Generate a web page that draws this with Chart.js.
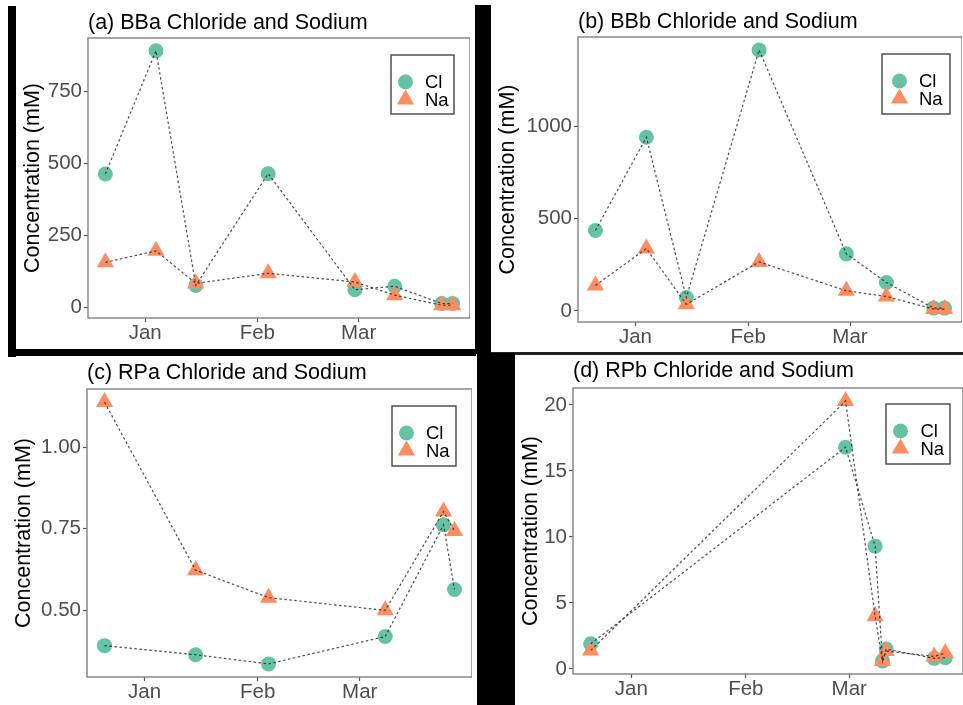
<!DOCTYPE html>
<html>
<head>
<meta charset="utf-8">
<script src="https://cdn.jsdelivr.net/npm/chart.js"></script>
<style>
  html, body { margin: 0; padding: 0; background: #fff; }
  body { position: relative; width: 963px; height: 705px; overflow: hidden; }
  .bar { position: absolute; background: #000; }
  .panel { position: absolute; }
</style>
</head>
<body>
<!-- black framing between the four panels -->
<div class="bar" style="left:8px;top:6px;width:8px;height:351px"></div>
<div class="bar" style="left:8px;top:349px;width:468px;height:7px"></div>
<div class="bar" style="left:475px;top:5px;width:16px;height:349px"></div>
<div class="bar" style="left:491px;top:352px;width:472px;height:3px;background:#222"></div>
<div class="bar" style="left:477px;top:353px;width:38px;height:352px"></div>

<div class="panel" id="pa"><canvas></canvas></div>
<div class="panel" id="pb"><canvas></canvas></div>
<div class="panel" id="pc"><canvas></canvas></div>
<div class="panel" id="pd"><canvas></canvas></div>

<script>
// sampling dates
const bbDates = ['2018-12-21', '2019-01-04', '2019-01-15', '2019-02-04', '2019-02-28', '2019-03-11', '2019-03-24', '2019-03-27'];
const rpaDates = ['2018-12-21', '2019-01-15', '2019-02-04', '2019-03-08', '2019-03-24', '2019-03-27'];
const rpbDates = ['2018-12-21', '2019-02-28', '2019-03-08', '2019-03-10', '2019-03-11', '2019-03-24', '2019-03-27'];

// concentrations (mM)
const bbaCl = [462, 890, 75, 463, 60, 72, 12, 12];
const bbaNa = [155, 195, 82, 117, 87, 41, 6, 6];
const bbbCl = [436, 941, 72, 1414, 309, 154, 15, 15];
const bbbNa = [138, 338, 36, 265, 109, 78, 10, 10];
const rpaCl = [0.392, 0.364, 0.336, 0.420, 0.762, 0.564];
const rpaNa = [1.138, 0.623, 0.539, 0.500, 0.803, 0.743];
const rpbCl = [1.9, 16.8, 9.3, 0.6, 1.5, 0.8, 0.85];
const rpbNa = [1.4, 20.3, 4.0, 0.6, 1.35, 0.95, 1.2];

// axis ticks
const monthTicks = ['2019-01-01', '2019-02-01', '2019-03-01'];
const monthLabels = ['Jan', 'Feb', 'Mar'];
const yTicksBBa = [0, 250, 500, 750];
const yTicksBBb = [0, 500, 1000];
const yTicksRPa = [0.50, 0.75, 1.00];
const yTicksRPb = [0, 5, 10, 15, 20];

const CL_COLOR = '#66C2A5';
const NA_COLOR = '#FC8D62';
const FONT = '"Liberation Sans", Arial, sans-serif';
const TITLE_SIZE = 21.5;
const TICK_SIZE = 20.5;
const LEGEND_SIZE = 18.5;
const Y_AXIS_W = 90;
const TITLE_H = 40;
const X_AXIS_H = 40;

function dayNum(s) {
  const [y, m, d] = s.split('-').map(Number);
  return (Date.UTC(y, m - 1, d) - Date.UTC(2019, 0, 1)) / 86400000;
}

// ggplot style 5% expansion of the data range
function expand(values) {
  const lo = Math.min(...values), hi = Math.max(...values);
  const pad = (hi - lo) * 0.05;
  return [lo - pad, hi + pad];
}

const framePlugin = {
  id: 'panelFrame',
  afterDatasetsDraw(chart) {
    const { ctx, chartArea: a } = chart;
    ctx.save();
    ctx.strokeStyle = '#808080';
    ctx.lineWidth = 1.4;
    ctx.strokeRect(a.left, a.top, a.right - a.left, a.bottom - a.top);
    ctx.restore();
  }
};

function legendPlugin(pos) {
  return {
    id: 'panelLegend',
    afterDraw(chart) {
      const { ctx, chartArea: a } = chart;
      const x = a.right - pos.right - pos.w;
      const y = a.top + pos.top;
      ctx.save();
      ctx.fillStyle = '#fff';
      ctx.fillRect(x, y, pos.w, pos.h);
      ctx.strokeStyle = '#444';
      ctx.lineWidth = 1.4;
      ctx.strokeRect(x, y, pos.w, pos.h);
      const entries = ['Cl', 'Na'].map(l => chart.data.datasets.find(d => d.label === l));
      entries.forEach((ds, i) => {
        const cy = y + 27 + i * 17.5;
        ctx.fillStyle = ds.backgroundColor;
        Chart.helpers.drawPoint(ctx, { pointStyle: ds.pointStyle, radius: ds.pointRadius, borderWidth: 0, rotation: 0 }, x + pos.sym, cy);
        ctx.fillStyle = '#000';
        ctx.font = LEGEND_SIZE + 'px ' + FONT;
        ctx.textBaseline = 'middle';
        ctx.textAlign = 'left';
        ctx.fillText(ds.label, x + pos.text, cy + 1);
      });
      ctx.restore();
    }
  };
}

function makePanel(id, cfg) {
  const box = document.getElementById(id);
  const a = cfg.area;
  const left = a.l - Y_AXIS_W;
  const top = a.t - TITLE_H;
  box.style.left = left + 'px';
  box.style.top = top + 'px';
  box.style.width = (a.r - left) + 'px';
  box.style.height = (a.b - top + X_AXIS_H) + 'px';

  const xs = cfg.dates.map(dayNum);
  const [xmin, xmax] = expand(xs);
  const [ymin, ymax] = expand(cfg.cl.concat(cfg.na));
  const pts = ys => xs.map((x, i) => ({ x: x, y: ys[i] }));
  const half = TITLE_SIZE * 1.2 / 2;
  const line = { showLine: true, pointRadius: 0, borderColor: 'rgba(45,45,45,0.85)', borderWidth: 1.2, borderDash: [2.5, 2.5], order: 0 };

  new Chart(box.querySelector('canvas'), {
    type: 'scatter',
    data: {
      datasets: [
        Object.assign({ label: 'Cl line', data: pts(cfg.cl) }, line),
        Object.assign({ label: 'Na line', data: pts(cfg.na) }, line),
        { label: 'Na', data: pts(cfg.na), pointStyle: 'triangle', pointRadius: 10, backgroundColor: NA_COLOR, borderWidth: 0, order: 1 },
        { label: 'Cl', data: pts(cfg.cl), pointStyle: 'circle', pointRadius: 7.5, backgroundColor: CL_COLOR, borderWidth: 0, order: 1 }
      ]
    },
    options: {
      animation: false,
      responsive: true,
      maintainAspectRatio: false,
      layout: { padding: 0, autoPadding: false },
      plugins: {
        legend: { display: false },
        tooltip: { enabled: false },
        title: {
          display: true,
          text: cfg.title,
          align: 'start',
          fullSize: false,
          color: '#000',
          font: { family: FONT, size: TITLE_SIZE, weight: 'normal' },
          padding: { top: cfg.titleY - half - top, bottom: a.t - cfg.titleY - half }
        }
      },
      scales: {
        x: {
          type: 'linear',
          min: xmin,
          max: xmax,
          afterFit: s => { s.height = X_AXIS_H; },
          afterBuildTicks: s => { s.ticks = monthTicks.map(d => ({ value: dayNum(d) })); },
          ticks: {
            autoSkip: false,
            maxRotation: 0,
            padding: -1,
            color: '#4D4D4D',
            font: { family: FONT, size: TICK_SIZE },
            callback: (v, i) => monthLabels[i]
          },
          grid: { drawOnChartArea: false, drawTicks: true, tickLength: 4, tickColor: '#555', tickWidth: 1.2 },
          border: { display: false }
        },
        y: {
          type: 'linear',
          min: ymin,
          max: ymax,
          afterFit: s => { s.width = Y_AXIS_W; },
          afterBuildTicks: s => { s.ticks = cfg.yTicks.map(v => ({ value: v })); },
          ticks: {
            padding: 2,
            color: '#4D4D4D',
            font: { family: FONT, size: TICK_SIZE },
            callback: v => cfg.decimals ? v.toFixed(cfg.decimals) : String(v)
          },
          grid: { drawOnChartArea: false, drawTicks: true, tickLength: 4, tickColor: '#555', tickWidth: 1.2 },
          border: { display: false },
          title: {
            display: true,
            text: 'Concentration (mM)',
            color: '#000',
            font: { family: FONT, size: TITLE_SIZE },
            padding: { top: cfg.yTitleX - left - half, bottom: 0 }
          }
        }
      }
    },
    plugins: [framePlugin, legendPlugin(cfg.legend)]
  });
}

makePanel('pa', {
  title: '(a) BBa Chloride and Sodium', dates: bbDates, cl: bbaCl, na: bbaNa, yTicks: yTicksBBa,
  area: { l: 88, t: 38, r: 470, b: 318 }, titleY: 23, yTitleX: 33,
  legend: { right: 16, top: 17, w: 63, h: 59, sym: 14.5, text: 34 }
});
makePanel('pb', {
  title: '(b) BBb Chloride and Sodium', dates: bbDates, cl: bbbCl, na: bbbNa, yTicks: yTicksBBb,
  area: { l: 578, t: 37, r: 962, b: 322 }, titleY: 22, yTitleX: 508,
  legend: { right: 12, top: 17, w: 68, h: 60, sym: 17.5, text: 37 }
});
makePanel('pc', {
  title: '(c) RPa Chloride and Sodium', dates: rpaDates, cl: rpaCl, na: rpaNa, yTicks: yTicksRPa, decimals: 2,
  area: { l: 87, t: 389, r: 472, b: 677 }, titleY: 373, yTitleX: 24,
  legend: { right: 16, top: 17, w: 64, h: 60, sym: 14.5, text: 34 }
});
makePanel('pd', {
  title: '(d) RPb Chloride and Sodium', dates: rpbDates, cl: rpbCl, na: rpbNa, yTicks: yTicksRPb,
  area: { l: 573, t: 388, r: 963, b: 674 }, titleY: 371, yTitleX: 531,
  legend: { right: 13, top: 16, w: 64, h: 60, sym: 14.5, text: 34.5 }
});
</script>
</body>
</html>
